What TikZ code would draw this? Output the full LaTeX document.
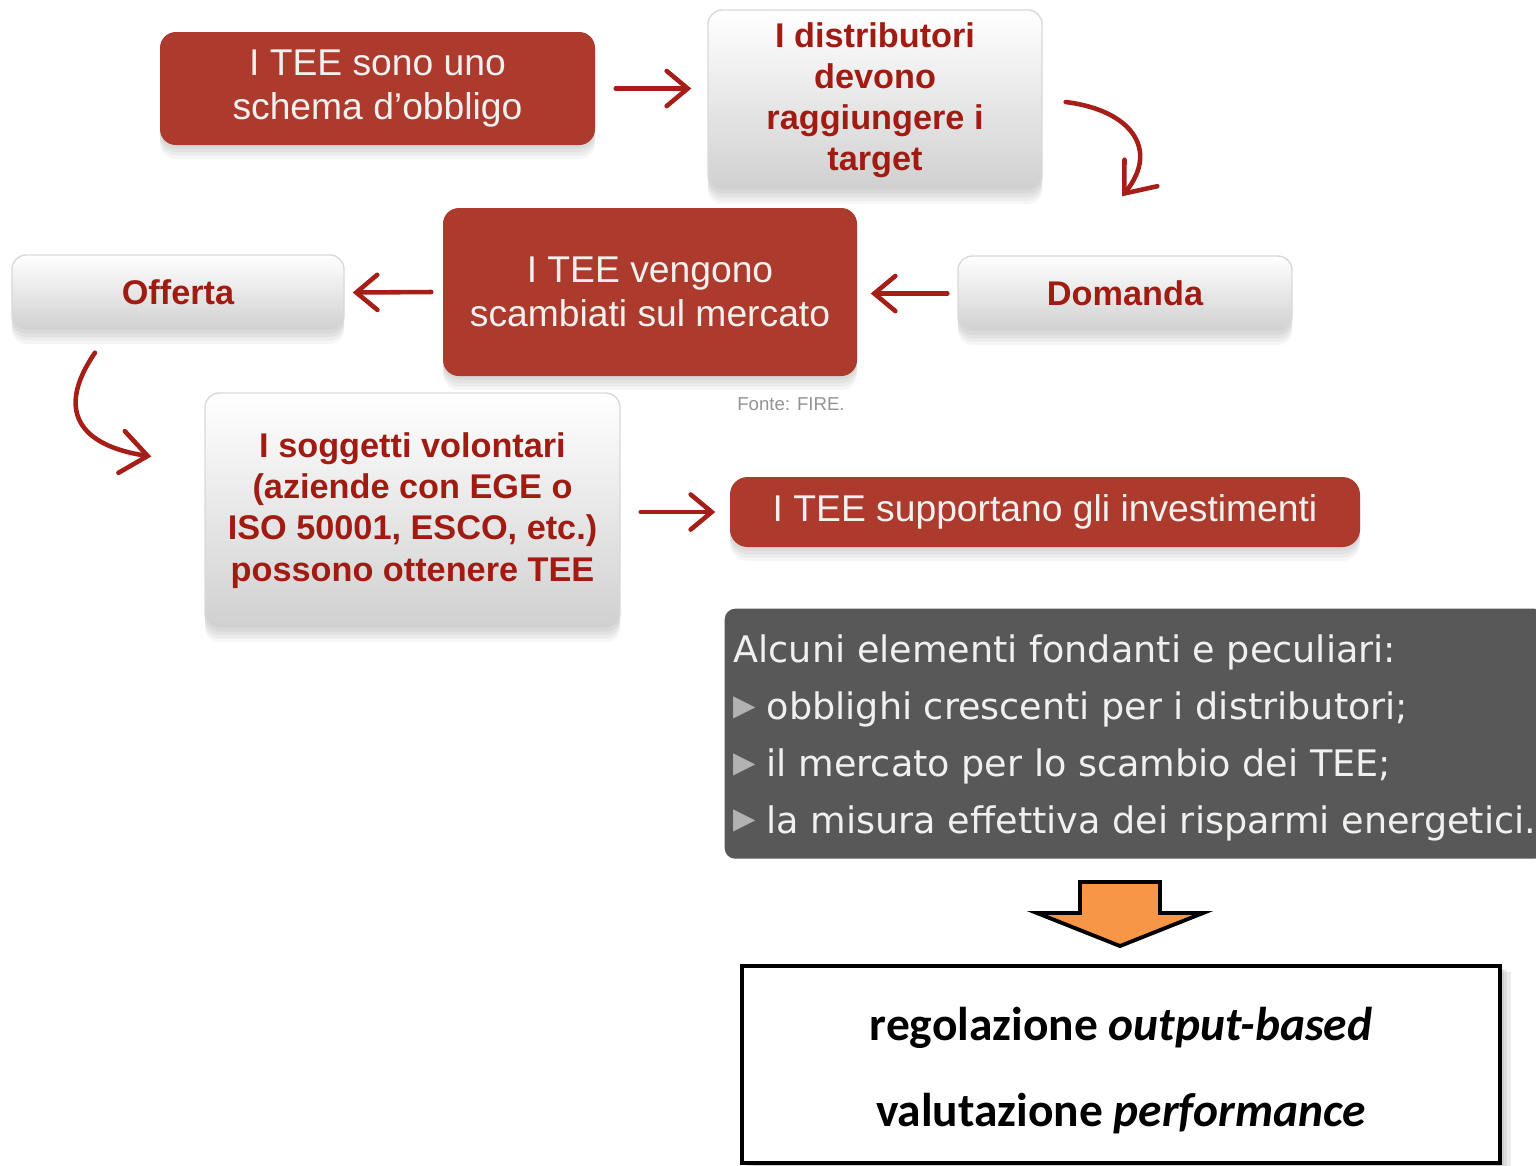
\documentclass[tikz,border=0pt]{standalone}
\usepackage{fontspec}
\setmainfont{Liberation Sans}
\newfontfamily\slatefont{DejaVu Sans}
\newfontfamily\calfont{Carlito}
\usetikzlibrary{shadows,arrows.meta,calc}

\definecolor{teered}{RGB}{172,58,45}
\definecolor{teetext}{RGB}{160,28,18}
\definecolor{penred}{RGB}{165,30,24}
\definecolor{slate}{RGB}{88,88,88}
\definecolor{slatetext}{RGB}{240,240,238}
\definecolor{orangefill}{RGB}{247,150,70}
\definecolor{boxgray}{RGB}{208,208,208}

\newcommand\tbullet{\raisebox{1.2pt}{\color{gray!60}\fontsize{8.3}{8}\selectfont ▶}\hspace{3pt}}

\tikzset{
  softshadow/.style={
    drop shadow={opacity=0.09, shadow xshift=0pt, shadow yshift=-1pt},
    drop shadow={opacity=0.09, shadow xshift=0pt, shadow yshift=-2pt},
    drop shadow={opacity=0.09, shadow xshift=0pt, shadow yshift=-3pt},
    drop shadow={opacity=0.07, shadow xshift=0pt, shadow yshift=-4pt}},
  redbox/.style={rounded corners=4.5pt, fill=teered, text=slatetext,
    font=\fontsize{10.6}{12.5}\selectfont, align=center, inner sep=0pt, softshadow},
  graybox/.style={rounded corners=4pt, draw=gray!30, top color=white,
    bottom color=boxgray, text=teetext,
    font=\bfseries\fontsize{9.75}{11.7}\selectfont, align=center, inner sep=0pt, softshadow},
  harrow/.style={penred, line width=1.3pt, line cap=round, line join=round,
    -{Straight Barb[length=6pt,width=10pt,line cap=round]}},
  slatebox/.style={rounded corners=3pt, fill=slate, inner sep=0pt},
  resultbox/.style={draw=black, line width=1.1pt, fill=white, inner sep=0pt,
    drop shadow={opacity=0.15, shadow xshift=1pt, shadow yshift=-0.8pt},
    drop shadow={opacity=0.15, shadow xshift=2pt, shadow yshift=-1.2pt},
    drop shadow={opacity=0.15, shadow xshift=3pt, shadow yshift=-1.6pt}},
}

\begin{document}
\begin{tikzpicture}
\useasboundingbox (0,0) rectangle (15.36,-11.65);

% top row
\node[redbox, minimum width=4.35cm, minimum height=1.13cm] (n1) at (3.775,-0.885)
  {I TEE sono uno\\schema d’obbligo};
\node[graybox, minimum width=3.34cm, minimum height=1.80cm] (n2) at (8.75,-1.0)
  {I distributori\\devono\\raggiungere i\\target};

% market row
\node[redbox, minimum width=4.14cm, minimum height=1.68cm] (n3) at (6.50,-2.92)
  {I TEE vengono\\scambiati sul mercato};
\node[graybox, minimum width=3.32cm, minimum height=0.75cm] (off) at (1.78,-2.925) {Offerta};
\node[graybox, minimum width=3.34cm, minimum height=0.75cm] (dom) at (11.25,-2.935) {Domanda};
\node[text=gray!85, font=\fontsize{5.3}{6}\selectfont] (src) at (7.91,-4.04) {Fonte: FIRE.};

% voluntary parties row
\node[graybox, minimum width=4.15cm, minimum height=2.35cm] (sog) at (4.125,-5.105)
  {I soggetti volontari\\(aziende con EGE o\\ISO 50001, ESCO, etc.)\\possono ottenere TEE};
\node[redbox, rounded corners=5pt, minimum width=6.30cm, minimum height=0.70cm] (inv) at (10.45,-5.12)
  {I TEE supportano gli investimenti};

% hand-drawn connectors
\draw[harrow] ([xshift=0.2cm]n1.east) -- ([xshift=-0.16cm]n1.east -| n2.west);
\draw[harrow, -{Straight Barb[length=7.5pt,width=12pt,line cap=round]}]
  ([shift={(0.23,-0.02)}]n2.east) .. controls +(0.65,-0.08) and +(0.38,0.47)
  .. ([shift={(-0.03,0.59)}]dom.north);
\draw[harrow] ([xshift=-0.10cm]dom.west) -- ([xshift=0.13cm]dom.west -| n3.east);
\draw[harrow] ([xshift=-0.11cm]n3.west) -- ([xshift=0.08cm]off.east);
\draw[harrow, -{Straight Barb[length=7.5pt,width=12pt,line cap=round]}]
  ([shift={(-0.83,-0.22)}]off.south) .. controls +(-0.40,-0.58) and +(-0.72,0.11)
  .. ([shift={(-0.53,0.54)}]sog.west);
\draw[harrow] ([xshift=0.2cm]sog.east |- inv.west) -- ([xshift=-0.14cm]inv.west);

% key features panel
\node[slatebox, minimum width=8.2cm, minimum height=2.50cm, anchor=north west] (dark) at (7.24,-6.08) {};
\node[anchor=west, align=left, text=slatetext, inner sep=0pt,
  font=\slatefont\fontsize{10.4}{16.2}\selectfont] (feat) at ([shift={(0.09,-0.04)}]dark.west)
  {Alcuni elementi fondanti e peculiari:\\
   \tbullet obblighi crescenti per i distributori;\\
   \tbullet il mercato per lo scambio dei TEE;\\
   \tbullet la misura effettiva dei risparmi energetici.};

% result
\node[resultbox, minimum width=7.58cm, minimum height=1.97cm] (res) at (11.21,-10.645) {};
\node[align=center, inner sep=0pt, font=\calfont\bfseries\fontsize{13.5}{24.5}\selectfont]
  (restext) at ([yshift=-0.06cm]res.center)
  {regolazione \textit{output-based}\\valutazione \textit{performance}};

% block arrow from the panel down to the result
\draw[fill=orangefill, line width=1.1pt, line join=miter]
  (10.80,-8.82) -- (11.60,-8.82) -- (11.60,-9.13) -- (12.03,-9.13) -- (11.20,-9.46)
  -- (10.37,-9.13) -- (10.80,-9.13) -- cycle;
\end{tikzpicture}
\end{document}
